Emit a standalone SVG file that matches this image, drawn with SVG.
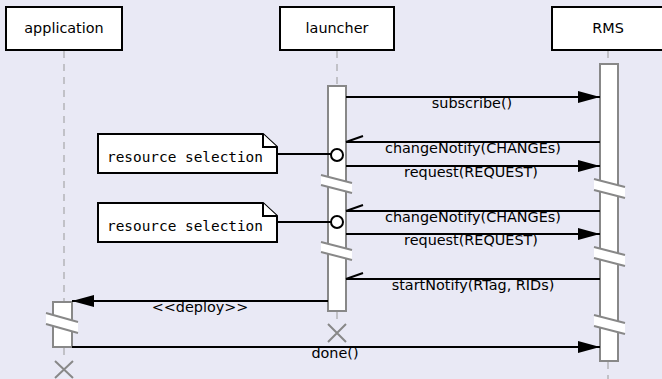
<svg xmlns="http://www.w3.org/2000/svg" width="662" height="379" viewBox="0 0 662 379">
  <defs>
    <style>
      .head { fill: #ffffff; stroke: #000000; stroke-width: 2; }
      .htxt { font-family: "DejaVu Sans", sans-serif; font-size: 14.4px; fill: #000; text-anchor: middle; }
      .life { stroke: #999999; stroke-width: 1; stroke-dasharray: 7 6; fill: none; }
      .bar { fill: #ffffff; stroke: #888888; stroke-width: 2; }
      .brk { stroke: #888888; stroke-width: 2; fill: none; }
      .band { fill: #ffffff; stroke: none; }
      .msg { stroke: #000000; stroke-width: 2; fill: none; }
      .mtxt { font-family: "DejaVu Sans", sans-serif; font-size: 14.4px; fill: #000; text-anchor: middle; }
      .note { fill: #ffffff; stroke: #000000; stroke-width: 2; stroke-linejoin: miter; }
      .ntxt { font-family: "DejaVu Sans Mono", monospace; font-size: 14.4px; fill: #000; }
      .dot { fill: #ffffff; stroke: #000000; stroke-width: 2; }
      .kill { stroke: #888888; stroke-width: 2; fill: none; }
    </style>
    <marker id="solid" viewBox="0 0 22 12" refX="22" refY="6" markerWidth="22" markerHeight="12" markerUnits="userSpaceOnUse" orient="auto">
      <path d="M0,0 L22,6 L0,12 Z" fill="#000"/>
    </marker>
  </defs>

  <rect width="662" height="379" fill="#e9e9f5"/>

  <!-- lifelines -->
  <g id="lifelines">
    <line class="life" x1="64" y1="51" x2="64" y2="301"/>
    <line class="life" x1="64" y1="348" x2="64" y2="358"/>
    <line class="life" x1="337" y1="51" x2="337" y2="86"/>
    <line class="life" x1="337" y1="312" x2="337" y2="322"/>
    <line class="life" x1="608" y1="51" x2="608" y2="63"/>
    <line class="life" x1="608" y1="362" x2="608" y2="379"/>
  </g>

  <!-- participants -->
  <g id="application">
    <rect class="head" x="6" y="7" width="116" height="43"/>
    <text class="htxt" x="64" y="33">application</text>
    <rect class="bar" x="53" y="302" width="19" height="45"/>
    <polygon class="band" points="46,313 78,322 78,333 46,324"/>
    <line class="brk" x1="46" y1="313" x2="78" y2="322"/>
    <line class="brk" x1="46" y1="324" x2="78" y2="333"/>
    <path class="kill" d="M55,361 L73,378 M73,361 L55,378"/>
  </g>

  <g id="launcher">
    <rect class="head" x="280" y="7" width="114" height="43"/>
    <text class="htxt" x="337" y="33">launcher</text>
    <rect class="bar" x="328" y="86" width="18" height="225"/>
    <polygon class="band" points="321,175 352,183 352,193 321,185"/>
    <line class="brk" x1="321" y1="175" x2="352" y2="183"/>
    <line class="brk" x1="321" y1="185" x2="352" y2="193"/>
    <polygon class="band" points="321,242 352,250 352,260 321,252"/>
    <line class="brk" x1="321" y1="242" x2="352" y2="250"/>
    <line class="brk" x1="321" y1="252" x2="352" y2="260"/>
    <path class="kill" d="M328,324 L346,342 M346,324 L328,342"/>
  </g>

  <g id="RMS">
    <rect class="head" x="552" y="7" width="112" height="43"/>
    <text class="htxt" x="608" y="33">RMS</text>
    <rect class="bar" x="600" y="64" width="18" height="297"/>
    <polygon class="band" points="594,179 625,187 625,198 594,190"/>
    <line class="brk" x1="594" y1="179" x2="625" y2="187"/>
    <line class="brk" x1="594" y1="190" x2="625" y2="198"/>
    <polygon class="band" points="594,247 625,255 625,266 594,258"/>
    <line class="brk" x1="594" y1="247" x2="625" y2="255"/>
    <line class="brk" x1="594" y1="258" x2="625" y2="266"/>
    <polygon class="band" points="594,315 625,323 625,334 594,326"/>
    <line class="brk" x1="594" y1="315" x2="625" y2="323"/>
    <line class="brk" x1="594" y1="326" x2="625" y2="334"/>
  </g>

  <!-- notes -->
  <g id="note1">
    <path class="note" d="M98,134 L263,134 L277,147 L277,173 L98,173 Z"/>
    <path class="note" d="M263,134 L263,147 L277,147" fill="none"/>
    <text class="ntxt" x="107" y="162">resource selection</text>
  </g>
  <g id="note2">
    <path class="note" d="M98,203 L263,203 L277,216 L277,242 L98,242 Z"/>
    <path class="note" d="M263,203 L263,216 L277,216" fill="none"/>
    <text class="ntxt" x="107" y="231">resource selection</text>
  </g>

  <!-- connectors -->
  <g id="connectors">
    <line class="msg" x1="346" y1="97" x2="600" y2="97" marker-end="url(#solid)"/>
    <text class="mtxt" x="472" y="108">subscribe()</text>

    <line class="msg" x1="600" y1="142" x2="346" y2="142"/>
    <line class="msg" x1="346" y1="142" x2="363" y2="136"/>
    <text class="mtxt" x="473" y="153">changeNotify(CHANGEs)</text>
    <line class="msg" x1="277" y1="154" x2="331" y2="154"/>
    <circle class="dot" cx="337" cy="155" r="6"/>

    <line class="msg" x1="346" y1="166" x2="600" y2="166" marker-end="url(#solid)"/>
    <text class="mtxt" x="471" y="177">request(REQUEST)</text>

    <line class="msg" x1="600" y1="211" x2="346" y2="211"/>
    <line class="msg" x1="346" y1="211" x2="363" y2="205"/>
    <text class="mtxt" x="473" y="222">changeNotify(CHANGEs)</text>
    <line class="msg" x1="277" y1="222" x2="331" y2="222"/>
    <circle class="dot" cx="337" cy="222" r="6"/>

    <line class="msg" x1="346" y1="234" x2="600" y2="234" marker-end="url(#solid)"/>
    <text class="mtxt" x="471" y="245">request(REQUEST)</text>

    <line class="msg" x1="600" y1="279" x2="346" y2="279"/>
    <line class="msg" x1="346" y1="279" x2="363" y2="273"/>
    <text class="mtxt" x="473" y="290">startNotify(RTag, RIDs)</text>

    <line class="msg" x1="328" y1="301" x2="72" y2="301" marker-end="url(#solid)"/>
    <text class="mtxt" x="200" y="312">&lt;&lt;deploy&gt;&gt;</text>

    <line class="msg" x1="72" y1="347" x2="600" y2="347" marker-end="url(#solid)"/>
    <text class="mtxt" x="335" y="358">done()</text>
  </g>
</svg>
